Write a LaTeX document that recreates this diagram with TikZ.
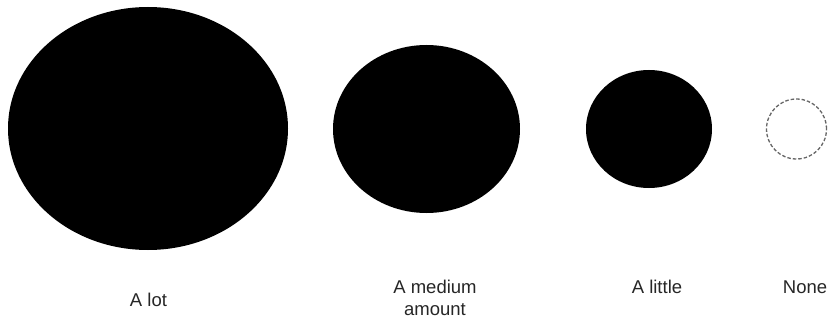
\documentclass[tikz,border=0pt]{standalone}
\usepackage{fontspec}
\setmainfont{Liberation Sans}
\usetikzlibrary{shapes.geometric}
\begin{document}
\begin{tikzpicture}[x=1pt, y=-1pt,
    blob/.style={ellipse, fill=black, inner sep=0pt},
    lbl/.style={font=\fontsize{18.5}{22}\selectfont, anchor=base, align=center, text=black!85}]
    % Khung hình
    \useasboundingbox (0,0) rectangle (828,321);

    % 1. Các hình tròn đen, từ lớn đến nhỏ
    \node[blob, minimum width=280pt, minimum height=243pt] (lot) at (148,128.5) {};
    \node[blob, minimum width=187pt, minimum height=168pt] (medium) at (426.5,129) {};
    \node[blob, minimum width=126pt, minimum height=118pt] (little) at (649,129) {};

    % 2. Hình tròn nét đứt
    \node[ellipse, draw=black!60, line width=1.3pt, dash pattern=on 3.5pt off 2pt,
        inner sep=0pt, minimum size=60pt] (none) at (796.5,129) {};

    % 3. Nhãn
    \node[lbl] (lotlbl) at (148.5,306) {A lot};
    \node[lbl] (mediumlbl) at (435,315) {A medium\\amount};
    \node[lbl] (littlelbl) at (657,293) {A little};
    \node[lbl] (nonelbl) at (805,293) {None};

\end{tikzpicture}
\end{document}
